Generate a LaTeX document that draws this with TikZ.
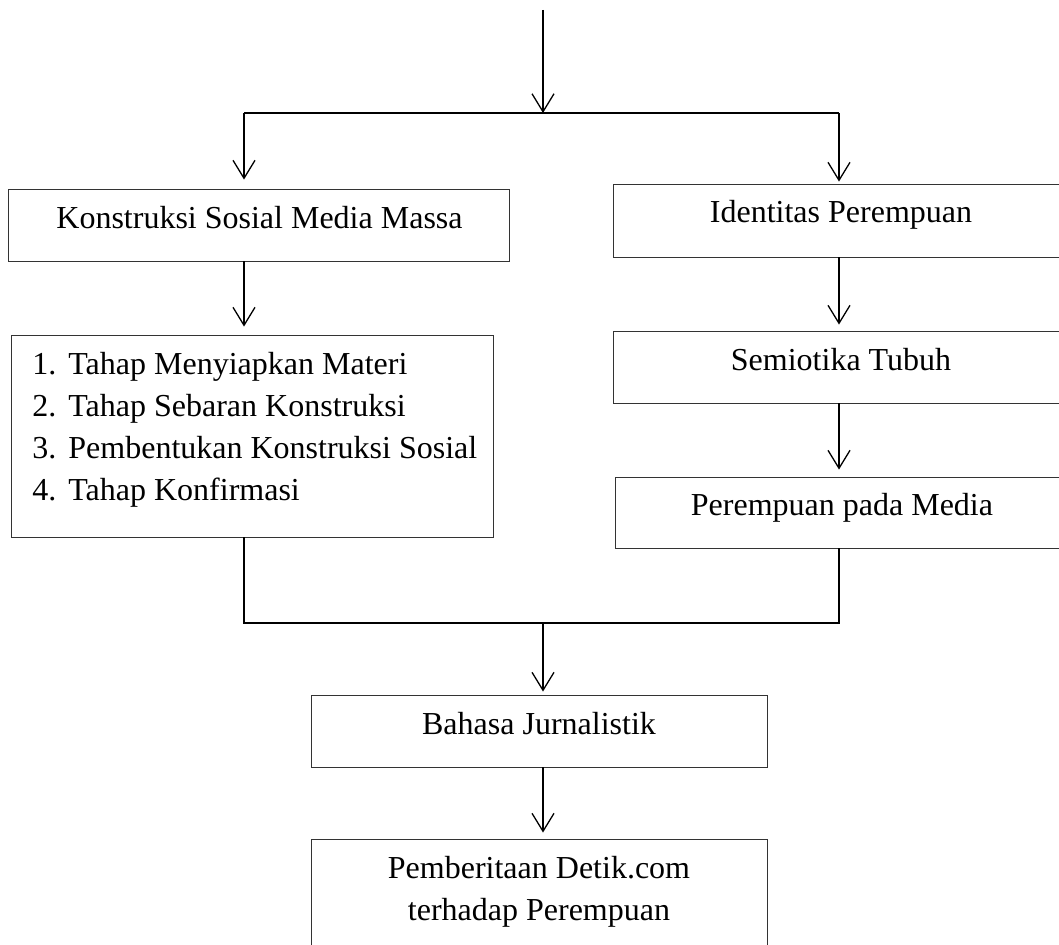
\documentclass[tikz,border=0pt]{standalone}
\usepackage{fontspec}
\setmainfont{Liberation Serif}
\usetikzlibrary{arrows.meta}
\begin{document}
\begin{tikzpicture}[x=0.5pt,y=-0.5pt,
  box/.style={draw=black!80, line width=0.45pt, rectangle, inner sep=0pt},
  txt/.style={inner sep=0pt, anchor=base, font=\fontsize{16}{21}\selectfont},
  arr/.style={line width=0.65pt, -{Straight Barb[length=9pt,width=11pt,line width=0.65pt]}},
  conn/.style={line width=0.65pt}]
\useasboundingbox (0,0) rectangle (1059,945);
\clip (0,0) rectangle (1059,945);
% boxes
\node[box, minimum width=250.5pt, minimum height=36pt] (b1) at (258.5,225) {};
\node[box, minimum width=228pt, minimum height=36.5pt] (b2) at (841,220.5) {};
\node[box, minimum width=241pt, minimum height=101pt] (lst) at (252,436) {};
\node[box, minimum width=228pt, minimum height=36pt] (sem) at (841,367) {};
\node[box, minimum width=228pt, minimum height=35.5pt] (per) at (843,512.5) {};
\node[box, minimum width=228pt, minimum height=36pt] (bah) at (539,731) {};
\node[box, minimum width=228pt, minimum height=61pt] (pem) at (539,900) {};
% texts
\node[txt] (t1) at (259.5,229) {Konstruksi Sosial Media Massa};
\node[txt] (t2) at (841,223) {Identitas Perempuan};
\node[txt, anchor=base west] (tl) at (32,375) {\begin{tabular}[t]{@{}p{18pt}@{}l@{}}
1. & Tahap Menyiapkan Materi\\
2. & Tahap Sebaran Konstruksi\\
3. & Pembentukan Konstruksi Sosial\\
4. & Tahap Konfirmasi
\end{tabular}};
\node[txt] (ts) at (841,371) {Semiotika Tubuh};
\node[txt] (tp) at (842,516) {Perempuan pada Media};
\node[txt] (tb) at (539,734) {Bahasa Jurnalistik};
\node[txt] (tm) at (539,878) {\begin{tabular}[t]{@{}c@{}}Pemberitaan Detik.com\\terhadap Perempuan\end{tabular}};
% coordinates
\coordinate (top) at (543,10);
\coordinate (j1) at (543,113);
\coordinate (jl) at (244,113);
\coordinate (jr) at (839,113);
\coordinate (jb) at (543,623);
% connectors
\draw[arr] (top) -- (j1);
\draw[conn] (jl) -- (jr);
\draw[arr, shorten >=4.5pt] (jl) -- (b1.north -| jl);
\draw[arr, shorten >=1pt] (jr) -- (b2.north -| jr);
\draw[arr, shorten >=4pt] (b1.south -| jl) -- (lst.north -| jl);
\draw[arr, shorten >=3pt] (b2.south -| jr) -- (sem.north -| jr);
\draw[arr, shorten >=3.5pt] (sem.south -| jr) -- (per.north -| jr);
\draw[conn] (lst.south -| jl) |- (jb) -| (per.south -| jr);
\draw[arr, shorten >=1.5pt] (jb) -- (bah.north -| jb);
\draw[arr, shorten >=3pt] (bah.south -| jb) -- (pem.north -| jb);
\end{tikzpicture}
\end{document}
